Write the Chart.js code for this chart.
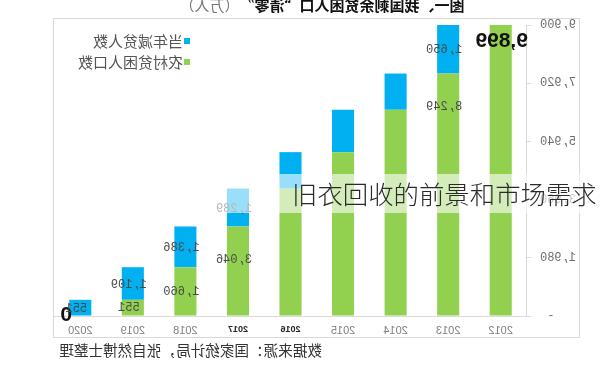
<!DOCTYPE html>
<html><head><meta charset="utf-8">
<script src="https://cdn.jsdelivr.net/npm/chart.js@4"></script>
<style>
html,body{margin:0;padding:0;background:#fff;overflow:hidden;}
#wrap{position:relative;width:600px;height:374px;overflow:hidden;}
#c{position:absolute;left:0;top:0;transform:scaleX(-1);}
#veil{position:absolute;left:210px;top:174px;width:390px;height:39px;background:rgba(255,255,255,0.6);}
#cap{position:absolute;left:292px;top:174px;height:39px;line-height:39px;font-family:"Noto Sans CJK SC";font-weight:300;font-size:25.4px;color:#2a2a2a;white-space:nowrap;}
</style></head><body>
<div id="wrap"><canvas id="c" width="600" height="374"></canvas><div id="veil"></div><div id="cap">旧衣回收的前景和市场需求</div></div>
<script>
// ---- data ----
const years = ['2012','2013','2014','2015','2016','2017','2018','2019','2020'];
const ruralPoor = [9899, 8249, 7017, 5575, 4335, 3046, 1660, 551, 0];
const reducedThisYear = [0, 1650, 1232, 1442, 1240, 1289, 1386, 1109, 551];
const yTickValues = [0, 1980, 3960, 5940, 7920, 9900];
const boldYears = ['2016', '2017'];
// which values carry a label: 0 none, 1 normal, 2 big bold
const ruralLabelKind = [2, 1, 0, 0, 0, 1, 1, 1, 2];
const reducedLabelKind = [0, 1, 0, 0, 0, 1, 1, 1, 1];
const seriesNames = ['农村贫困人口数', '当年减贫人数'];
const titleMain = '图一、我国剩余贫困人口“清零”';
const titleUnit = '（万人）';
const sourceText = '数据来源：国家统计局，张自然博士整理';

const GREEN = '#92D050', BLUE = '#00B0F0';
const fmt = v => v.toLocaleString('en-US');

const decor = {
  id: 'decor',
  beforeDraw(chart) {
    const ctx = chart.ctx;
    ctx.save();
    ctx.fillStyle = '#fff';
    ctx.fillRect(0, 0, chart.width, chart.height);
    ctx.strokeStyle = '#d9d9d9';
    ctx.lineWidth = 1;
    ctx.strokeRect(20.5, 18.5, 526, 319);
    ctx.restore();
  },
  afterDatasetsDraw(chart) {
    const ctx = chart.ctx;
    ctx.save();
    ctx.textAlign = 'center';
    ctx.textBaseline = 'middle';
    const mG = chart.getDatasetMeta(0).data;
    const mB = chart.getDatasetMeta(1).data;
    mG.forEach((bar, i) => {
      const k = ruralLabelKind[i];
      if (!k) return;
      const top = Math.min(bar.y, bar.base), bot = Math.max(bar.y, bar.base);
      if (k === 2) {
        ctx.font = 'bold 21px "Liberation Sans", Arial, sans-serif';
        ctx.fillStyle = '#111';
        if (ruralPoor[i] === 0) {
          ctx.fillText(fmt(ruralPoor[i]), bar.x + 14, bot - 1);
        } else {
          ctx.fillText(fmt(ruralPoor[i]), bar.x - 1, top + 16);
        }
      } else {
        ctx.font = '12px "Liberation Mono", monospace';
        ctx.fillStyle = '#4a4a4a';
        ctx.fillText(fmt(ruralPoor[i]), bar.x + 4, Math.min(top + 33, (top + bot) / 2));
      }
    });
    mB.forEach((bar, i) => {
      if (!reducedLabelKind[i]) return;
      const top = Math.min(bar.y, bar.base), bot = Math.max(bar.y, bar.base);
      ctx.font = '12px "Liberation Mono", monospace';
      ctx.fillStyle = '#4a4a4a';
      ctx.fillText(fmt(reducedThisYear[i]), bar.x + 4, (top + bot) / 2 + 1);
    });
    ctx.restore();
  },
  afterDraw(chart) {
    const ctx = chart.ctx;
    ctx.save();
    ctx.textBaseline = 'middle';
    // title
    ctx.font = 'bold 15px "Noto Sans CJK SC"';
    const w1 = ctx.measureText(titleMain).width;
    ctx.font = '15px "Noto Sans CJK SC"';
    const w2 = ctx.measureText(titleUnit).width;
    let x0 = 278 - (w1 + w2) / 2;
    ctx.textAlign = 'left';
    ctx.fillStyle = '#111';
    ctx.font = 'bold 15px "Noto Sans CJK SC"';
    ctx.fillText(titleMain, x0, 5);
    ctx.fillStyle = '#777';
    ctx.font = '15px "Noto Sans CJK SC"';
    ctx.fillText(titleUnit, x0 + w1, 5);
    // legend (blue first row, green second)
    const rows = [[seriesNames[1], BLUE, 41], [seriesNames[0], GREEN, 62]];
    ctx.font = '15px "Noto Sans CJK SC"';
    rows.forEach(([t, c, y]) => {
      ctx.fillStyle = c;
      ctx.fillRect(410, y - 3, 6, 6);
      ctx.fillStyle = '#555';
      ctx.fillText(t, 417, y);
    });
    // source
    ctx.font = '14.6px "Noto Sans CJK SC"';
    ctx.fillStyle = '#333';
    ctx.fillText(sourceText, 278, 350);
    ctx.restore();
  }
};

new Chart(document.getElementById('c'), {
  type: 'bar',
  data: {
    labels: years,
    datasets: [
      { label: seriesNames[0], data: ruralPoor, backgroundColor: GREEN, borderWidth: 0 },
      { label: seriesNames[1], data: reducedThisYear, backgroundColor: BLUE, borderWidth: 0 }
    ]
  },
  options: {
    responsive: false,
    animation: false,
    devicePixelRatio: 1,
    events: [],
    layout: { padding: { left: 20, right: 54, top: 25, bottom: 36 } },
    datasets: { bar: { categoryPercentage: 1, barPercentage: 0.42 } },
    plugins: { legend: { display: false }, title: { display: false }, tooltip: { enabled: false } },
    scales: {
      x: {
        stacked: true,
        offset: true,
        grid: { display: false, drawTicks: false },
        border: { display: true, color: '#d9d9d9', width: 1 },
        ticks: {
          padding: 8,
          maxRotation: 0,
          autoSkip: false,
          font: (c) => boldYears.includes(years[c.index])
            ? { family: '"Liberation Sans", Arial', size: 9, weight: 'bold' }
            : { family: '"Liberation Sans", Arial', size: 11 },
          color: (c) => boldYears.includes(years[c.index]) ? '#262626' : '#7f7f7f'
        },
        afterFit: (s) => { s.height = 22; }
      },
      y: {
        stacked: true,
        min: 0,
        max: yTickValues[yTickValues.length - 1],
        afterBuildTicks: (s) => { s.ticks = yTickValues.map(v => ({ value: v })); },
        grid: { display: true, drawOnChartArea: false, drawTicks: true, tickLength: 4, color: '#d6d6e4' },
        border: { display: true, color: '#d6d6e4', width: 1 },
        ticks: {
          padding: 9,
          font: { family: '"Liberation Mono", monospace', size: 12 },
          color: '#6f6f6f',
          callback: (v) => v === 0 ? '- ' : fmt(v)
        },
        afterFit: (s) => { s.width = 53; }
      }
    }
  },
  plugins: [decor]
});
</script>
</body></html>
